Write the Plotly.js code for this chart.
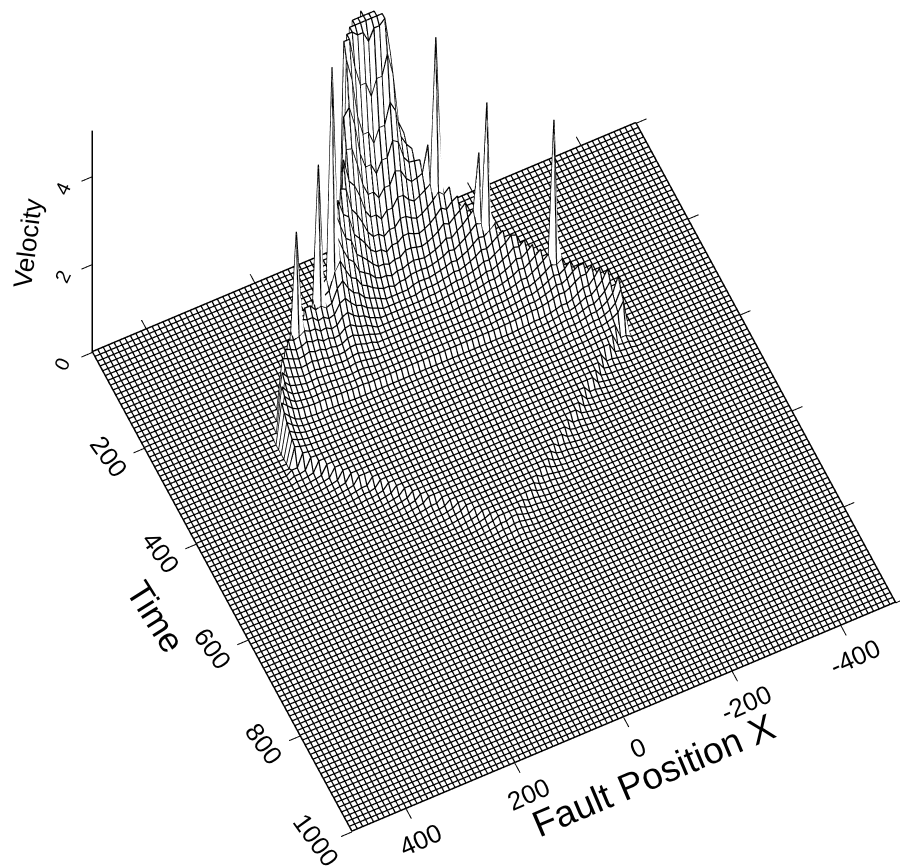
<!DOCTYPE html>
<html><head><meta charset="utf-8">
<script src="https://cdn.plot.ly/plotly-3.0.1.min.js"></script>
<style>html,body{margin:0;padding:0;background:#fff}#g{width:900px;height:867px}</style></head>
<body><div id="g"></div>
<script>
// Per-station readings from the picture (one entry per mesh line, x = 300 ... -310, step 10)
const stationX = [300,290,280,270,260,250,240,230,220,210,200,190,180,170,160,150,140,130,120,110,100,90,80,70,60,50,40,30,20,10,0,-10,-20,-30,-40,-50,-60,-70,-80,-90,-100,-110,-120,-130,-140,-150,-160,-170,-180,-190,-200,-210,-220,-230,-240,-250,-260,-270,-280,-290,-300,-310];
const arrivalTime = [345,285,265,245,228,215,206,200,197,193,190,185,180,175,170,165,162,158,150,140,125,110,90,75,62,55,52,50,55,60,67,75,83,90,98,106,114,122,130,138,146,154,162,170,178,186,194,201,209,217,225,233,241,249,257,265,272,280,288,296,304,330];
const stopTime = [345,350,358,367,376,385,394,403,412,421,430,439,448,457,466,474,483,492,501,510,519,527,536,545,554,563,572,581,590,596,594,586,578,570,562,555,547,539,531,523,515,508,500,492,484,476,469,461,453,445,437,430,422,414,406,398,390,383,375,367,359,351];
const frontPeak = [0.5,0.9,1.0,1.05,1.1,1.15,1.2,1.25,1.3,1.4,1.5,1.5,1.5,1.55,1.6,1.7,2.2,3.0,3.1,3.2,3.7,4.4,6.5,7,6.5,6.5,6.5,6.5,6.5,6.5,6.5,5,3.5,3.2,2.9,2.7,2.55,2.45,2.3,2.2,2.05,1.95,1.85,1.8,1.7,1.6,1.5,1.45,1.4,1.35,1.3,1.25,1.2,1.15,1.1,1.1,1.05,1.05,1.05,1.05,1.1,1.1];
// Velocity behind the front, read every 10 time units from 0 to 600
const interiorVelocity = [6,6,6,6,6,6,6,6,4.8,3.5,2.6,2.2,1.9,1.65,1.45,1.3,1.18,1.08,1.0,0.93,0.87,0.82,0.77,0.73,0.69,0.65,0.62,0.59,0.56,0.53,0.42,0.4,0.38,0.36,0.34,0.32,0.31,0.3,0.28,0.27,0.26,0.25,0.24,0.23,0.22,0.21,0.2,0.2,0.19,0.18,0.18,0.17,0.17,0.16,0.16,0.15,0.15,0.14,0.14,0.13,0.13];
const frontDecay = [1,0.75,0.55,0.4,0.28,0.2,0.14,0.1,0.07,0.05,0.03,0.02,0.01];
const stopTail = [0.08,0.05,0.03,0.01];
const velocityClip = 5.85;
const spikeX = [220,170,140,-60,-70,-130,-140,-230];
const spikeT = [200,180,170,120,130,170,180,250];
const spikeV = [3.45,4.5,6.45,3.1,5.6,3.1,4.3,4.2];
const gridStepX = 10, gridStepT = 10;
const timeTicks = [0,200,400,600,800,1000];
const positionTicks = [-400,-200,0,200,400];
const velocityTicks = [0,2,4];

const xs=[], ts=[];
for(let x=-500;x<=500;x+=gridStepX) xs.push(x);
for(let t=0;t<=1000;t+=gridStepT) ts.push(t);
const z = ts.map(t=>xs.map(x=>{
  const k=stationX.indexOf(x); if(k<0) return 0;
  const a=arrivalTime[k], h=stopTime[k], p=frontPeak[k];
  if(t<a) return 0;
  if(t>=h) return stopTail[Math.floor((t-h)/10)]||0;
  const b=interiorVelocity[t/10]||0.13, d=frontDecay[Math.floor((t-a)/10)]||0;
  return Math.min(velocityClip,p,b+(p-b)*d);
}));
spikeX.forEach((x,i)=>{ z[ts.indexOf(spikeT[i])][xs.indexOf(x)]=spikeV[i]; });

// White occluding sheet on a doubled grid (keeps the library from smoothing the spikes)
const sx=[], st=[];
for(let i=0;i<2*xs.length-1;i++) sx.push(xs[0]+i*gridStepX/2);
for(let j=0;j<2*ts.length-1;j++) st.push(ts[0]+j*gridStepT/2);
const sheet=st.map((_,j)=>sx.map((_,i)=>{
  const j0=j>>1,j1=(j+1)>>1,i0=i>>1,i1=(i+1)>>1;
  return (z[j0][i0]+z[j0][i1]+z[j1][i0]+z[j1][i1])/4;
}));
const surf={type:'surface',x:sx,y:st,z:sheet,showscale:false,hoverinfo:'skip',
  colorscale:[[0,'#fff'],[1,'#fff']],
  lighting:{ambient:1,diffuse:0,specular:0,fresnel:0,roughness:1},
  contours:{x:{show:false,highlight:false},y:{show:false,highlight:false},z:{show:false,highlight:false}}};
function seg(xa,ya,za,w){return {type:'scatter3d',mode:'lines',x:xa,y:ya,z:za,line:{color:'#000',width:w},hoverinfo:'skip',showlegend:false};}
// Mesh lines, drawn from the same values
const lift=0.02, mx=[],my=[],mz=[];
ts.forEach((t,j)=>{xs.forEach((x,i)=>{mx.push(x);my.push(t);mz.push(z[j][i]+lift);});mx.push(null);my.push(null);mz.push(null);});
xs.forEach((x,i)=>{ts.forEach((t,j)=>{mx.push(x);my.push(t);mz.push(z[j][i]+lift);});mx.push(null);my.push(null);mz.push(null);});
const tx=[],ty=[],tz=[];
function add(a,b,c,d){tx.push(a,c,null);ty.push(b,d,null);tz.push(0,0,null);}
timeTicks.forEach(t=>{add(500,t,520,t);add(-500,t,-520,t);});
positionTicks.forEach(p=>{add(p,0,p,-20);add(p,1000,p,1020);});
const zx=[],zy=[],zz=[];
velocityTicks.forEach(v=>{zx.push(500,520,null);zy.push(0,0,null);zz.push(v,v,null);});
const font={family:'Liberation Sans, Arial, sans-serif',color:'#000'};
const ann=[];
timeTicks.slice(1).forEach(t=>ann.push({x:500,y:t,z:0,text:String(t),textangle:54,showarrow:false,xshift:-36,yshift:-8,font:{...font,size:26}}));
positionTicks.forEach(p=>ann.push({x:p,y:1000,z:0,text:String(p),textangle:-24,showarrow:false,xshift:14,yshift:-31,font:{...font,size:26}}));
velocityTicks.forEach(v=>ann.push({x:500,y:0,z:v,text:String(v),textangle:-65,showarrow:false,xshift:-30,yshift:-12,font:{...font,size:20}}));
ann.push({x:500,y:500,z:0,text:'Time',textangle:58,showarrow:false,xshift:-66,yshift:-24,font:{...font,size:35}});
ann.push({x:0,y:1000,z:0,text:'Fault Position X',textangle:-23,showarrow:false,xshift:30,yshift:-58,font:{...font,size:37}});
ann.push({x:500,y:0,z:2.5,text:'Velocity',textangle:-83,showarrow:false,xshift:-65,yshift:0,font:{...font,size:26}});
const R=1.6, cx=0.092, cy=-0.042, cz=-0.48;
Plotly.newPlot('g',[surf,
  seg(mx,my,mz,2.5),
  seg([-500,500,500,-500,-500],[0,0,1000,1000,0],[lift,lift,lift,lift,lift],3),
  seg(tx,ty,tz,2),
  seg([500,500],[0,0],[0,5.05],3),
  seg(zx,zy,zz,2)],
 {width:900,height:867,margin:{l:0,r:0,t:0,b:0},paper_bgcolor:'#fff',showlegend:false,
  scene:{domain:{x:[0,1],y:[0,1]},
   xaxis:{visible:false,range:[-520,520]},yaxis:{visible:false,range:[-20,1020]},zaxis:{visible:false,range:[0,6.5]},
   aspectmode:'manual',aspectratio:{x:1.445,y:1.445,z:1.40},
   camera:{projection:{type:'orthographic'},up:{x:0,y:0,z:1},center:{x:cx,y:cy,z:cz},eye:{x:0.203*R+cx,y:0.425*R+cy,z:0.883*R+cz}},
   annotations:ann}},
 {displayModeBar:false});
</script></body></html>
